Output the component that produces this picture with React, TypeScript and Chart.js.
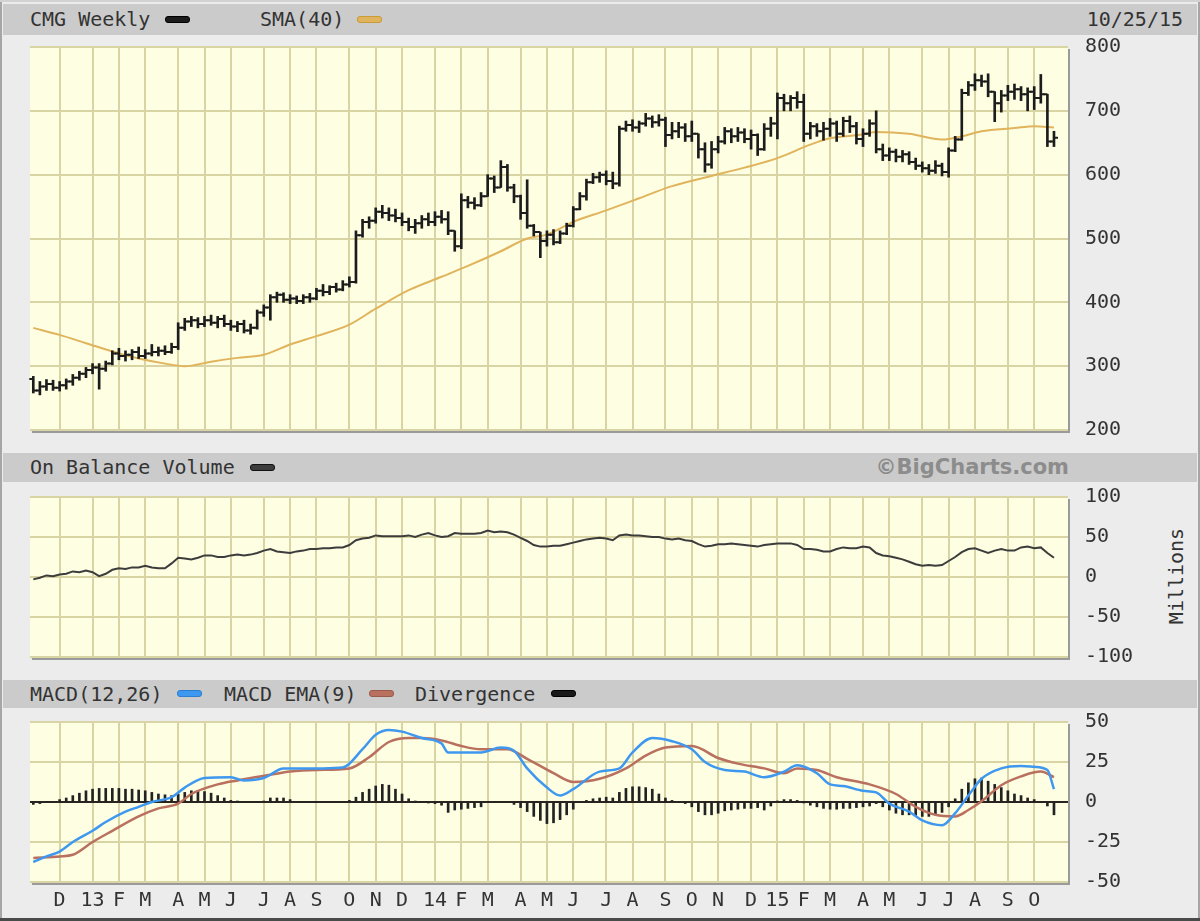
import React, { useEffect, useRef } from "react";
import { Chart, registerables } from "chart.js";

Chart.register(...registerables);

// ---------------- data ----------------
// week index 0 = first weekly bar (Nov 2012), 155 = week ending 10/23/15
const monthTickWeeks = [4, 9, 13, 17, 22, 26, 30, 35, 39, 43, 48, 52, 56, 61, 65, 69, 74, 78, 82, 87, 91, 96, 100, 104, 109, 113, 117, 121, 126, 130, 135, 139, 143, 148, 152];
const monthTickLabels = ["D", "13", "F", "M", "A", "M", "J", "J", "A", "S", "O", "N", "D", "14", "F", "M", "A", "M", "J", "J", "A", "S", "O", "N", "D", "15", "F", "M", "A", "M", "J", "J", "A", "S", "O"];

const open = [
  280, 262, 268, 272, 266, 270, 276, 282, 288, 294,
  298, 296, 304, 320, 316, 318, 322, 316, 320, 322,
  324, 322, 330, 360, 370, 372, 366, 372, 368, 374,
  366, 362, 366, 356, 360, 384, 392, 408, 412, 404,
  406, 402, 408, 406, 418, 416, 424, 420, 428, 432,
  505, 526, 528, 542, 540, 536, 532, 526, 518, 524,
  530, 526, 534, 530, 512, 488, 560, 556, 552, 566,
  594, 580, 612, 580, 566, 540, 520, 510, 496, 506,
  494, 508, 520, 546, 566, 588, 596, 600, 590, 586,
  672, 678, 674, 680, 688, 682, 686, 662, 668, 674,
  660, 664, 640, 616, 640, 652, 668, 660, 666, 656,
  662, 640, 672, 680, 720, 712, 720, 714, 664, 676,
  668, 672, 680, 664, 684, 676, 656, 664, 680, 640,
  630, 636, 628, 632, 620, 614, 610, 606, 614, 604,
  638, 655, 728, 740, 748, 746, 730, 712, 724, 730,
  734, 726, 730, 720, 726, 652,
];
const high = [
  284, 276, 279, 278, 276, 280, 287, 292, 298, 304,
  304, 308, 324, 328, 324, 326, 330, 326, 334, 330,
  332, 336, 368, 375, 378, 376, 378, 380, 378, 380,
  372, 370, 372, 366, 388, 396, 412, 416, 415, 412,
  410, 412, 414, 422, 428, 426, 430, 434, 440, 512,
  530, 534, 548, 552, 548, 546, 540, 532, 530, 536,
  540, 542, 544, 542, 512, 570, 566, 564, 572, 600,
  598, 622, 616, 585, 568, 592, 522, 510, 512, 514,
  512, 524, 550, 572, 593, 602, 604, 606, 604, 676,
  684, 686, 684, 696, 692, 694, 690, 682, 682, 680,
  684, 664, 650, 652, 660, 674, 672, 674, 672, 670,
  664, 680, 690, 728, 726, 724, 730, 726, 682, 680,
  682, 688, 684, 690, 692, 682, 672, 686, 700, 648,
  642, 640, 638, 636, 626, 620, 616, 622, 618, 642,
  660, 734, 746, 758, 756, 758, 730, 732, 740, 742,
  738, 736, 738, 757, 726, 668,
];
const low = [
  258, 255, 262, 262, 261, 264, 270, 278, 282, 288,
  264, 292, 302, 310, 308, 310, 312, 312, 316, 316,
  318, 320, 326, 356, 362, 360, 362, 364, 360, 362,
  356, 354, 352, 350, 358, 378, 372, 400, 400, 398,
  398, 398, 400, 404, 410, 412, 416, 418, 424, 430,
  502, 516, 524, 532, 528, 526, 520, 512, 508, 516,
  520, 520, 524, 506, 480, 484, 548, 546, 550, 566,
  572, 580, 574, 556, 530, 516, 504, 470, 488, 490,
  492, 506, 518, 545, 560, 586, 588, 584, 578, 582,
  668, 668, 666, 676, 674, 676, 644, 656, 658, 652,
  652, 626, 604, 610, 634, 648, 650, 652, 650, 640,
  630, 638, 660, 656, 700, 700, 704, 652, 656, 660,
  654, 660, 652, 660, 666, 648, 644, 660, 634, 622,
  622, 620, 620, 616, 608, 604, 600, 602, 598, 596,
  636, 654, 724, 732, 738, 722, 683, 698, 716, 718,
  716, 700, 702, 712, 644, 644,
];
const close = [
  262, 268, 272, 266, 270, 276, 282, 288, 294, 298,
  296, 304, 320, 316, 318, 322, 316, 320, 322, 324,
  322, 330, 360, 370, 372, 366, 372, 368, 374, 366,
  362, 366, 356, 360, 384, 392, 408, 412, 404, 406,
  402, 408, 406, 418, 416, 424, 420, 428, 432, 505,
  526, 528, 542, 540, 536, 532, 526, 518, 524, 530,
  526, 534, 530, 512, 488, 560, 556, 552, 566, 594,
  580, 612, 580, 566, 540, 520, 510, 496, 506, 494,
  508, 520, 546, 566, 588, 596, 600, 590, 586, 672,
  678, 674, 680, 688, 682, 686, 662, 668, 674, 660,
  664, 640, 616, 640, 652, 668, 660, 666, 656, 662,
  640, 672, 680, 720, 712, 720, 714, 664, 676, 668,
  672, 680, 664, 684, 676, 656, 664, 680, 640, 630,
  636, 628, 632, 620, 614, 610, 606, 614, 604, 638,
  655, 728, 740, 748, 746, 730, 712, 724, 730, 734,
  726, 730, 720, 726, 652, 658,
];

const smaWeeks = [0, 4, 8, 13, 16, 20, 23, 27, 31, 35, 39, 43, 48, 52, 57, 62, 66, 71, 75, 78, 82, 87, 92, 97, 103, 108, 113, 118, 121, 126, 128, 133, 138, 141, 144, 149, 152, 155];
const smaValues = [360, 349, 336, 320, 312, 304, 300, 307, 313, 318, 334, 347, 365, 390, 419, 440, 457, 480, 500, 506, 526, 544, 563, 582, 598, 611, 626, 647, 657, 663, 667, 664, 655, 660, 668, 673, 676, 674];

const obvMillions = [
  -3, -1, 2, 1, 3, 4, 7, 6, 8, 6,
  1, 4, 9, 11, 10, 12, 12, 14, 12, 11,
  11, 17, 24, 23, 22, 24, 27, 27, 25, 25,
  27, 28, 27, 28, 30, 33, 35, 32, 31, 30,
  32, 33, 35, 35, 36, 36, 37, 37, 40, 46,
  48, 49, 52, 51, 51, 51, 51, 52, 50, 53,
  55, 52, 50, 51, 55, 54, 54, 54, 55, 58,
  56, 57, 56, 53, 49, 45, 40, 38, 38, 39,
  39, 41, 43, 45, 47, 48, 49, 48, 46, 52,
  53, 52, 52, 51, 50, 50, 48, 47, 48, 46,
  45, 41, 38, 39, 41, 41, 42, 41, 40, 39,
  38, 40, 41, 42, 42, 42, 40, 35, 35, 34,
  32, 32, 35, 37, 36, 36, 38, 37, 30, 27,
  26, 24, 22, 19, 16, 14, 15, 14, 15, 20,
  25, 31, 35, 36, 33, 30, 33, 35, 33, 33,
  37, 38, 36, 37, 30, 24,
];

const macdWeeks = [0, 2, 4, 6, 9, 11, 14, 16, 18, 21, 23, 26, 30, 32, 35, 38, 41, 44, 47, 50, 52, 54, 56, 59, 62, 63, 68, 71, 73, 75, 78, 80, 82, 86, 89, 91, 94, 97, 100, 102, 105, 108, 111, 114, 116, 119, 121, 123, 126, 128, 130, 133, 135, 138, 140, 142, 144, 147, 150, 152, 154, 155];
const macdValues = [-37.5, -34, -31, -25, -18, -12.5, -6, -3, 0, 3, 9, 15, 15.5, 13.5, 15, 21, 21, 21, 21.5, 33, 42, 45, 44, 40, 36.5, 31, 31, 34, 32, 21, 9, 4, 8, 19, 21, 31, 40, 38, 33, 25, 20, 19, 15.5, 19, 23, 18, 11, 10, 7, 6, -1, -6, -11.5, -14.5, -7, 4, 14.5, 21, 22.5, 22, 20, 8];

const emaWeeks = [0, 4, 6, 9, 12, 16, 19, 22, 24, 28, 31, 36, 39, 43, 48, 51, 54, 57, 59, 62, 65, 68, 72, 75, 79, 82, 86, 90, 93, 96, 100, 104, 107, 111, 114, 116, 119, 122, 127, 131, 134, 137, 140, 142, 144, 147, 150, 153, 155];
const emaValues = [-35, -34, -33, -25, -18, -9, -4, -1, 5, 11, 13.5, 17, 19, 20, 21, 28, 37.5, 40, 40, 38.5, 35, 33, 33, 27, 18, 12.5, 14.5, 21, 29, 34, 35, 27.5, 24, 21, 18, 21, 20, 15.5, 11, 5, -3, -8, -9, -5, 0.5, 10.5, 16, 19, 15.5];

const divergence = [
  -1.5, -1, 0, 0, 1.5, 2.5, 4, 5.5, 7, 8,
  8.5, 8.5, 8.5, 8.5, 8, 8, 7.5, 7, 6, 5,
  4.5, 4, 5, 6, 7, 7, 6.5, 5.5, 4, 2.5,
  1, 0.5, 0, 0, 0, 0.5, 2.5, 2.5, 2.5, 1.5,
  0, 0, 0, 0, 0, 0, 0, 0, 1, 3,
  6, 8, 10, 11, 10.5, 8, 5, 2, 0.5, 0,
  -0.5, -1, -2, -6.5, -5, -4.5, -4, -3.5, -3, 0,
  0, 0, 0, -1.5, -3.5, -6, -9, -11.5, -13.5, -13,
  -11, -8, -4.5, 0, 1, 2, 2.5, 3, 2.5, 6,
  8.5, 9.5, 9.5, 9, 8, 5, 2.5, 1, 0, -1,
  -3, -6, -8, -8, -7, -5.5, -5, -4.5, -4, -4,
  -3.5, -5, -2.5, 0.5, 1.5, 1.5, 1, -0.5, -2, -3,
  -4, -4.5, -4.5, -4, -4, -3.5, -3, -2.5, -1, -3,
  -5, -7, -8, -8, -8.5, -9, -9, -8, -6.5, -3,
  2, 8, 12, 14.5, 15, 13, 11, 9, 7, 5,
  4, 2.5, 1.5, 0, -2.5, -8,
];

// ---------------- styles ----------------
const MONO = "'DejaVu Sans Mono', monospace";
const PAGE_BG = "#ececec";
const HEADER_BG = "#cbcbcb";
const PLOT_BG = "#fefee2";
const GRID = "#d8d4a4";
const TEXT = "#333333";
const BAR_COLOR = "#1c1c1c";
const SMA_COLOR = "#e0b45c";
const OBV_COLOR = "#3c3c3c";
const MACD_COLOR = "#3f98ef";
const EMA_COLOR = "#b9705f";
const X_MIN = -0.5;
const X_MAX = 157.13;
const PAD = 32; // layout padding above/below each plot (covers tick-label overflow)

const plotFrame = {
  id: "plotFrame",
  beforeDraw(chart: any) {
    const { ctx, chartArea: a } = chart;
    ctx.save();
    ctx.fillStyle = PLOT_BG;
    ctx.fillRect(a.left, a.top, a.right - a.left, a.bottom - a.top);
    ctx.restore();
  },
  afterDraw(chart: any) {
    const { ctx, chartArea: a } = chart;
    ctx.save();
    ctx.fillStyle = "#9a9a9a";
    ctx.fillRect(a.left + 2, a.bottom + 1, a.right - a.left, 2);
    ctx.fillRect(a.right, a.top + 2, 2, a.bottom - a.top + 1);
    ctx.restore();
  },
};

const ohlcTicks = {
  id: "ohlcTicks",
  afterDatasetsDraw(chart: any) {
    const idx = chart.data.datasets.findIndex((d: any) => d.label === "CMG Weekly");
    if (idx < 0) return;
    const meta = chart.getDatasetMeta(idx);
    const yScale = chart.scales.y;
    const ctx = chart.ctx;
    ctx.save();
    ctx.strokeStyle = BAR_COLOR;
    ctx.lineWidth = 2;
    meta.data.forEach((el: any, i: number) => {
      const x = el.x;
      const yo = yScale.getPixelForValue(open[i]);
      const yc = yScale.getPixelForValue(close[i]);
      ctx.beginPath();
      ctx.moveTo(x - 4, yo);
      ctx.lineTo(x, yo);
      ctx.moveTo(x, yc);
      ctx.lineTo(x + 4, yc);
      ctx.stroke();
    });
    ctx.restore();
  },
};

function xAxis(showLabels: boolean) {
  return {
    type: "linear",
    min: X_MIN,
    max: X_MAX,
    offset: false,
    afterBuildTicks: (axis: any) => {
      axis.ticks = monthTickWeeks.map((v) => ({ value: v }));
    },
    grid: { color: GRID, lineWidth: 2, drawTicks: false, offset: false },
    border: { display: false },
    ticks: showLabels
      ? {
          display: true,
          autoSkip: false,
          maxRotation: 0,
          padding: 7,
          font: { family: MONO, size: 20 },
          color: TEXT,
          callback: (_v: any, i: number) => monthTickLabels[i],
        }
      : { display: false },
    afterFit: showLabels
      ? (s: any) => {
          s.height = 30;
        }
      : undefined,
  };
}

function yAxis(min: number, max: number, step: number, zeroColor?: string) {
  return {
    type: "linear",
    position: "right",
    min,
    max,
    ticks: { stepSize: step, padding: 17, font: { family: MONO, size: 20 }, color: TEXT },
    grid: {
      color: zeroColor ? (c: any) => (c.tick && c.tick.value === 0 ? zeroColor : GRID) : GRID,
      lineWidth: 2,
      drawTicks: false,
    },
    border: { display: false },
    afterFit: (s: any) => {
      s.width = 132;
    },
  };
}

function baseOptions(x: any, y: any, padBottom: number) {
  return {
    responsive: false,
    animation: false,
    devicePixelRatio: 1,
    events: [],
    layout: { padding: { left: 30, right: 0, top: PAD, bottom: padBottom } },
    plugins: { legend: { display: false }, tooltip: { enabled: false } },
    scales: { x, y },
  };
}

// ---------------- components ----------------
const Label = ({ x, top, h, children, style }: any) => (
  <div
    style={{
      position: "absolute",
      left: x,
      top,
      height: h,
      lineHeight: `${h}px`,
      fontFamily: MONO,
      fontSize: 20,
      color: TEXT,
      whiteSpace: "pre",
      ...style,
    }}
  >
    {children}
  </div>
);

const Swatch = ({ x, y, color, border }: any) => (
  <div
    style={{
      position: "absolute",
      left: x,
      top: y,
      width: 25,
      height: 7,
      background: color,
      border: `1px solid ${border}`,
      borderRadius: 3,
      boxSizing: "border-box",
    }}
  />
);

const HeaderBar = ({ top, h }: any) => (
  <div style={{ position: "absolute", left: 3, top, width: 1194, height: h, background: HEADER_BG }} />
);

export default function App() {
  const priceRef = useRef<HTMLCanvasElement>(null);
  const obvRef = useRef<HTMLCanvasElement>(null);
  const macdRef = useRef<HTMLCanvasElement>(null);

  useEffect(() => {
    document.body.style.margin = "0";
    const charts: Chart[] = [];

    charts.push(
      new Chart(priceRef.current as HTMLCanvasElement, {
        type: "bar",
        data: {
          datasets: [
            {
              type: "line",
              label: "SMA(40)",
              data: smaWeeks.map((w, k) => ({ x: w, y: smaValues[k] })),
              borderColor: SMA_COLOR,
              borderWidth: 2,
              pointRadius: 0,
              cubicInterpolationMode: "monotone",
              order: 2,
            },
            {
              type: "bar",
              label: "CMG Weekly",
              data: close.map((_, i) => ({ x: i, y: [low[i], high[i]] })),
              backgroundColor: BAR_COLOR,
              barThickness: 2,
              borderWidth: 0,
              borderSkipped: false,
              grouped: false,
              order: 1,
            },
          ],
        } as any,
        options: baseOptions(xAxis(false), yAxis(200, 800, 100), PAD) as any,
        plugins: [plotFrame, ohlcTicks],
      })
    );

    charts.push(
      new Chart(obvRef.current as HTMLCanvasElement, {
        type: "line",
        data: {
          datasets: [
            {
              label: "On Balance Volume",
              data: obvMillions.map((v, i) => ({ x: i, y: v })),
              borderColor: OBV_COLOR,
              borderWidth: 2,
              pointRadius: 0,
              tension: 0,
            },
          ],
        } as any,
        options: baseOptions(xAxis(false), yAxis(-100, 100, 50), PAD) as any,
        plugins: [plotFrame],
      })
    );

    charts.push(
      new Chart(macdRef.current as HTMLCanvasElement, {
        type: "bar",
        data: {
          datasets: [
            {
              type: "line",
              label: "MACD(12,26)",
              data: macdWeeks.map((w, k) => ({ x: w, y: macdValues[k] })),
              borderColor: MACD_COLOR,
              borderWidth: 2.5,
              pointRadius: 0,
              cubicInterpolationMode: "monotone",
              order: 1,
            },
            {
              type: "line",
              label: "MACD EMA(9)",
              data: emaWeeks.map((w, k) => ({ x: w, y: emaValues[k] })),
              borderColor: EMA_COLOR,
              borderWidth: 2.5,
              pointRadius: 0,
              cubicInterpolationMode: "monotone",
              order: 2,
            },
            {
              type: "bar",
              label: "Divergence",
              data: divergence.map((v, i) => ({ x: i, y: v })),
              backgroundColor: "#222222",
              barThickness: 2,
              borderWidth: 0,
              grouped: false,
              order: 3,
            },
          ],
        } as any,
        options: baseOptions(xAxis(true), yAxis(-50, 50, 25, "#2a2420"), 9) as any,
        plugins: [plotFrame],
      })
    );

    return () => charts.forEach((c) => c.destroy());
  }, []);

  return (
    <div style={{ position: "absolute", left: 0, top: 0, width: 1200, height: 921, background: PAGE_BG, overflow: "hidden" }}>
      {/* outer border */}
      <div style={{ position: "absolute", left: 0, top: 0, width: 2, height: 921, background: "#a6a6a6" }} />
      <div style={{ position: "absolute", right: 0, top: 0, width: 2, height: 921, background: "#a6a6a6" }} />
      <div style={{ position: "absolute", left: 0, top: 0, width: 1200, height: 2, background: "#d2d2d2" }} />
      <div style={{ position: "absolute", left: 0, top: 918, width: 1200, height: 3, background: "#4a4a4a" }} />

      {/* header 1 */}
      <HeaderBar top={4} h={31} />
      <Label x={30} top={4} h={31}>CMG Weekly</Label>
      <Swatch x={165} y={16} color={BAR_COLOR} border="#000" />
      <Label x={260} top={4} h={31}>SMA(40)</Label>
      <Swatch x={357} y={16} color={SMA_COLOR} border="#c99a35" />
      <Label x={0} top={4} h={31} style={{ left: "auto", right: 17 }}>10/25/15</Label>

      {/* header 2 */}
      <HeaderBar top={453} h={29} />
      <Label x={30} top={453} h={29}>On Balance Volume</Label>
      <Swatch x={250} y={464} color={OBV_COLOR} border="#111" />
      <Label
        x={0}
        top={453}
        h={29}
        style={{ left: "auto", right: 131, fontFamily: "'DejaVu Sans', sans-serif", fontWeight: "bold", fontSize: 21, color: "#8c8c8c" }}
      >
        ©BigCharts.com
      </Label>

      {/* header 3 */}
      <HeaderBar top={680} h={28} />
      <Label x={30} top={680} h={28}>MACD(12,26)</Label>
      <Swatch x={177} y={690} color={MACD_COLOR} border="#2a7fd0" />
      <Label x={224} top={680} h={28}>MACD EMA(9)</Label>
      <Swatch x={369} y={690} color={EMA_COLOR} border="#9a5a4a" />
      <Label x={415} top={680} h={28}>Divergence</Label>
      <Swatch x={551} y={690} color="#1a1a1a" border="#000" />

      {/* Millions */}
      <div
        style={{
          position: "absolute",
          left: 1176,
          top: 576,
          transform: "translate(-50%, -50%) rotate(-90deg)",
          fontFamily: MONO,
          fontSize: 20,
          color: TEXT,
          whiteSpace: "nowrap",
        }}
      >
        Millions
      </div>

      <canvas ref={priceRef} width={1200} height={447} style={{ position: "absolute", left: 0, top: 15 }} />
      <canvas ref={obvRef} width={1200} height={224} style={{ position: "absolute", left: 0, top: 465 }} />
      <canvas ref={macdRef} width={1200} height={231} style={{ position: "absolute", left: 0, top: 690 }} />
    </div>
  );
}
